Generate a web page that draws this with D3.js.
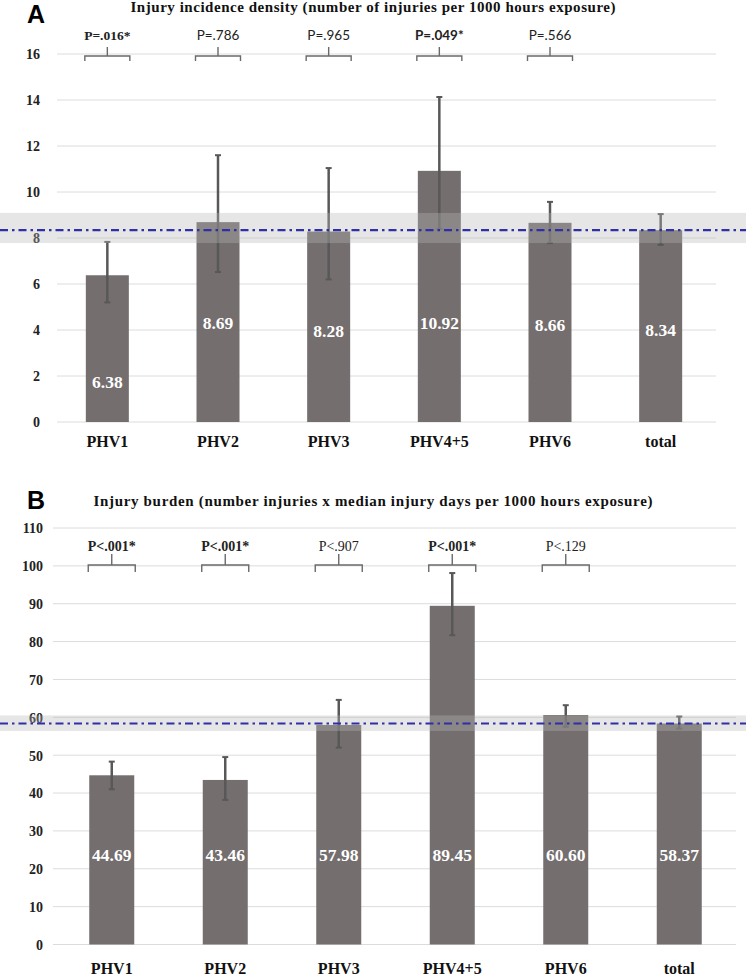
<!DOCTYPE html>
<html>
<head>
<meta charset="utf-8">
<script src="https://cdn.jsdelivr.net/npm/d3@7/dist/d3.min.js"></script>
<style>
  html, body { margin: 0; padding: 0; background: #fff; }
  svg { display: block; }
</style>
</head>
<body>
<svg id="chart" width="746" height="976"></svg>
<script>
// ---------------- data ----------------
const categories = ["PHV1", "PHV2", "PHV3", "PHV4+5", "PHV6", "total"];

const densityTitle = "Injury incidence density (number of injuries per 1000 hours exposure)";
const densityValues = [6.38, 8.69, 8.28, 10.92, 8.66, 8.34];
const densityLow = [5.2, 6.52, 6.2, 8.4, 7.78, 7.7];
const densityHigh = [7.83, 11.6, 11.04, 14.13, 9.57, 9.04];
const densityBand = [7.78, 9.09];
const densityRef = 8.34;
const densityTicks = [0, 2, 4, 6, 8, 10, 12, 14, 16];
const densityP = ["P=.016*", "P=.786", "P=.965", "P=.049*", "P=.566"];
const densitySig = [true, false, false, true, false];

const burdenTitle = "Injury burden (number injuries x median injury days per 1000 hours exposure)";
const burdenValues = [44.69, 43.46, 57.98, 89.45, 60.60, 58.37];
const burdenLow = [41.0, 38.2, 52.0, 81.7, 57.5, 57.0];
const burdenHigh = [48.3, 49.5, 64.6, 98.1, 63.2, 60.2];
const burdenBand = [56.4, 60.5];
const burdenRef = 58.37;
const burdenTicks = [0, 10, 20, 30, 40, 50, 60, 70, 80, 90, 100, 110];
const burdenP = ["P<.001*", "P<.001*", "P<.907", "P<.001*", "P<.129"];
const burdenSig = [true, true, false, true, false];

// ---------------- layout (not data) ----------------
const BAR = "#746e6e";
const SERIF = "'Liberation Serif', 'Times New Roman', serif";
const SANS_A = "Lato, 'Liberation Sans', sans-serif";

const panels = [
  {
    letter: "A", letterY: 23, title: densityTitle, titleY: 12, titleLen: 485,
    values: densityValues, low: densityLow, high: densityHigh, band: densityBand, ref: densityRef,
    ticks: densityTicks, domain: [0, 16], yRange: [422, 54],
    xRange: [52, 716], gridX: [57, 716], tickX: 40, barW: 43,
    labelAt: [1.74, 4.3, 3.96, 4.3, 4.22, 4.0],
    pLabels: densityP, pSig: densitySig, pFont: [SERIF, SANS_A, SANS_A, SANS_A, SANS_A], pSize: 13.5,
    pBase: 40, brTop: 56, brEnd: 61, brTick: 47,
    catY: 447
  },
  {
    letter: "B", letterY: 509, title: burdenTitle, titleY: 506, titleLen: 559,
    values: burdenValues, low: burdenLow, high: burdenHigh, band: burdenBand, ref: burdenRef,
    ticks: burdenTicks, domain: [0, 110], yRange: [944.5, 528],
    xRange: [55, 736], gridX: [53, 736], tickX: 43, barW: 45,
    labelAt: [23.6, 23.6, 23.6, 23.6, 23.6, 23.6],
    pLabels: burdenP, pSig: burdenSig, pFont: [SERIF, SERIF, SERIF, SERIF, SERIF], pSize: 14,
    pBase: 551, brTop: 565, brEnd: 572, brTick: 554,
    catY: 974
  }
];

const svg = d3.select("#chart");

panels.forEach(p => {
  const g = svg.append("g");
  const x = d3.scalePoint().domain(categories).range(p.xRange).padding(0.5);
  const y = d3.scaleLinear().domain(p.domain).range(p.yRange);

  // gridlines
  g.append("g").selectAll("line").data(p.ticks).join("line")
    .attr("x1", p.gridX[0]).attr("x2", p.gridX[1])
    .attr("y1", d => y(d)).attr("y2", d => y(d))
    .attr("stroke", "#dcdcdc").attr("stroke-width", 1);

  // y axis
  const axis = g.append("g").attr("transform", `translate(${p.tickX},0)`)
    .attr("font-family", SERIF)
    .call(d3.axisLeft(y).tickValues(p.ticks).tickSize(0).tickPadding(0).tickFormat(d3.format("d")));
  axis.attr("font-family", SERIF);
  axis.select(".domain").remove();
  axis.selectAll("text")
    .attr("font-family", SERIF).attr("font-weight", "bold").attr("font-size", 14)
    .attr("fill", "#222").attr("dy", "0.35em");

  // bars
  g.append("g").selectAll("rect").data(p.values).join("rect")
    .attr("x", (d, i) => x(categories[i]) - p.barW / 2)
    .attr("width", p.barW)
    .attr("y", d => y(d))
    .attr("height", d => y(0) - y(d))
    .attr("fill", BAR);

  // error bars
  const eb = g.append("g").selectAll("g").data(p.values).join("g");
  eb.append("line")
    .attr("x1", (d, i) => x(categories[i])).attr("x2", (d, i) => x(categories[i]))
    .attr("y1", (d, i) => y(p.low[i])).attr("y2", (d, i) => y(p.high[i]))
    .attr("stroke", "#585858").attr("stroke-width", 2.5);
  ["low", "high"].forEach(k => {
    eb.append("line")
      .attr("x1", (d, i) => x(categories[i]) - 3).attr("x2", (d, i) => x(categories[i]) + 3)
      .attr("y1", (d, i) => y(p[k][i])).attr("y2", (d, i) => y(p[k][i]))
      .attr("stroke", "#585858").attr("stroke-width", 2);
  });

  // value labels
  g.append("g").selectAll("text").data(p.values).join("text")
    .attr("x", (d, i) => x(categories[i]))
    .attr("y", (d, i) => y(p.labelAt[i]))
    .attr("dy", "0.35em")
    .attr("text-anchor", "middle")
    .attr("font-family", SERIF).attr("font-weight", "bold").attr("font-size", 17.5)
    .attr("fill", "#ffffff")
    .text(d => d.toFixed(2));

  // reference band (semi-transparent overlay)
  g.append("rect")
    .attr("x", 0).attr("width", 746)
    .attr("y", y(p.band[1])).attr("height", y(p.band[0]) - y(p.band[1]))
    .attr("fill", "rgb(183,183,183)").attr("fill-opacity", 0.35);

  // reference dash-dot line
  g.append("line")
    .attr("x1", 0).attr("x2", 746)
    .attr("y1", y(p.ref)).attr("y2", y(p.ref))
    .attr("stroke", "#2f2fa6").attr("stroke-width", 2.2)
    .attr("stroke-dasharray", "8,4,2.5,4");

  // brackets + p labels
  const bw = p.barW / 2 + 1;
  g.append("g").selectAll("path").data(p.pLabels).join("path")
    .attr("d", (d, i) => {
      const cx = x(categories[i]);
      return `M${cx - bw},${p.brEnd}V${p.brTop}H${cx + bw}V${p.brEnd}M${cx},${p.brTop}V${p.brTick}`;
    })
    .attr("fill", "none").attr("stroke", "#6a6a6a").attr("stroke-width", 1.4);

  g.append("g").selectAll("text").data(p.pLabels).join("text")
    .attr("x", (d, i) => x(categories[i]))
    .attr("y", p.pBase)
    .attr("text-anchor", "middle")
    .attr("font-family", (d, i) => p.pFont[i])
    .attr("font-weight", (d, i) => p.pSig[i] ? "bold" : "normal")
    .attr("font-size", p.pSize)
    .attr("fill", "#222")
    .text(d => d);

  // category labels
  g.append("g").selectAll("text").data(categories).join("text")
    .attr("x", d => x(d)).attr("y", p.catY)
    .attr("text-anchor", "middle")
    .attr("font-family", SERIF).attr("font-weight", "bold").attr("font-size", 16)
    .attr("fill", "#111")
    .text(d => d);

  // title
  g.append("text")
    .attr("x", 373).attr("y", p.titleY)
    .attr("text-anchor", "middle")
    .attr("font-family", SERIF).attr("font-weight", "bold").attr("font-size", 15)
    .attr("textLength", p.titleLen).attr("lengthAdjust", "spacing")
    .attr("fill", "#111")
    .text(p.title);

  // panel letter
  g.append("text")
    .attr("x", 27).attr("y", p.letterY)
    .attr("font-family", "'Liberation Sans', Arial, sans-serif").attr("font-weight", "bold").attr("font-size", 25)
    .attr("fill", "#000")
    .text(p.letter);
});
</script>
</body>
</html>
